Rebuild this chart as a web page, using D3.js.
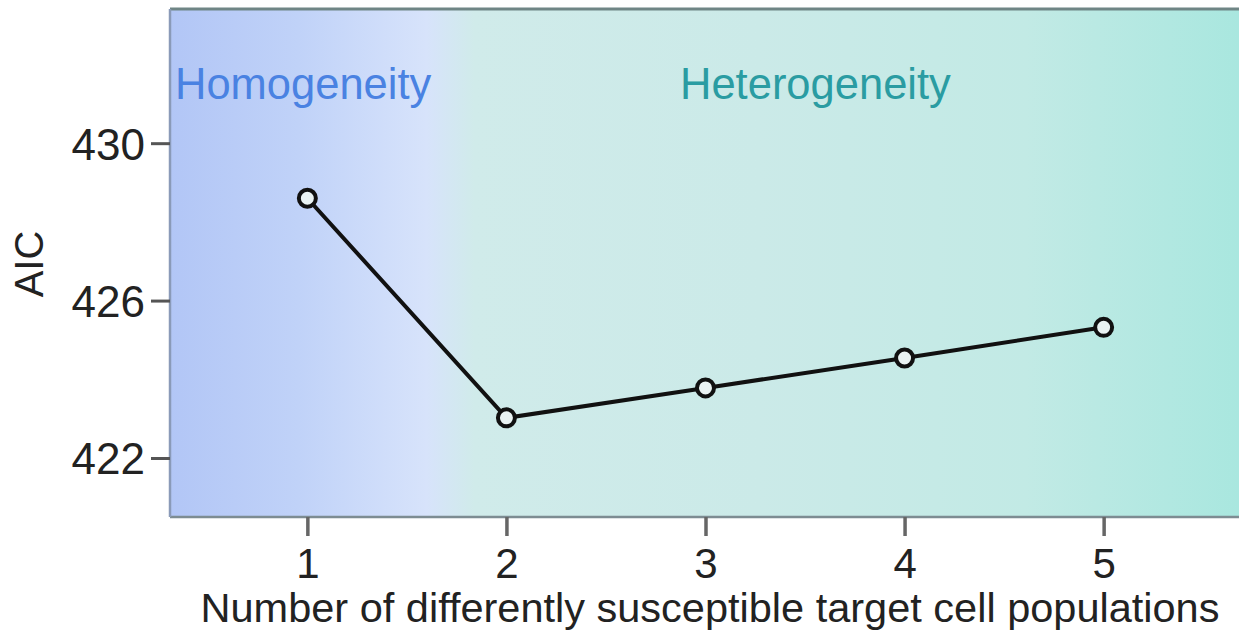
<!DOCTYPE html>
<html>
<head>
<meta charset="utf-8">
<script src="https://cdn.jsdelivr.net/npm/d3@7"></script>
<style>
  html, body { margin: 0; padding: 0; background: #fff; }
  svg { display: block; font-family: "Liberation Sans", Arial, Helvetica, sans-serif; }
</style>
</head>
<body>
<svg id="chart" width="1239" height="641"></svg>
<script>
// Number of target cell populations in the model
const populations = [1, 2, 3, 4, 5];
// AIC of each fitted model
const aicValues = [428.6, 423.02, 423.78, 424.54, 425.32];
// Axis ticks
const yTicks = [422, 426, 430];
const xTicks = [1, 2, 3, 4, 5];

const svg = d3.select("#chart");
const W = 1239, H = 641;
const margin = { left: 170, right: 0, top: 9, bottom: 124 };
const plotW = W - margin.left - margin.right;
const plotH = H - margin.top - margin.bottom;

const x = d3.scaleLinear().domain([0.31, 5.68]).range([margin.left, W - margin.right]);
const y = d3.scaleLinear().domain([420.5, 433.41]).range([H - margin.bottom, margin.top]);

// Background: blue (homogeneity) fading into teal (heterogeneity)
const defs = svg.append("defs");
const grad = defs.append("linearGradient").attr("id", "bg").attr("x1", 0).attr("x2", 1).attr("y1", 0).attr("y2", 0);
[[0, "#b2c6f6"], [0.12, "#c0d2f8"], [0.24, "#d7e3fb"], [0.285, "#d0ebea"], [0.55, "#cbeae8"], [0.8, "#c2eae5"], [1, "#a9e7df"]]
  .forEach(([o, c]) => grad.append("stop").attr("offset", o).attr("stop-color", c));

svg.append("rect")
  .attr("x", margin.left).attr("y", margin.top)
  .attr("width", plotW).attr("height", plotH)
  .attr("fill", "url(#bg)");

// Frame lines
svg.append("line").attr("x1", margin.left).attr("x2", W).attr("y1", margin.top).attr("y2", margin.top)
  .attr("stroke", "#6f8585").attr("stroke-width", 3);
svg.append("line").attr("x1", margin.left).attr("x2", W).attr("y1", H - margin.bottom).attr("y2", H - margin.bottom)
  .attr("stroke", "#7d8c92").attr("stroke-width", 2.5);
svg.append("line").attr("x1", margin.left).attr("x2", margin.left).attr("y1", margin.top).attr("y2", H - margin.bottom)
  .attr("stroke", "#8a9ab8").attr("stroke-width", 2.5);

// Y axis
const yAxis = d3.axisLeft(y).tickValues(yTicks).tickSize(19).tickPadding(6).tickFormat(d3.format("d"));
const gy = svg.append("g").attr("transform", `translate(${margin.left},0)`).call(yAxis);
gy.select(".domain").remove();
gy.selectAll(".tick line").attr("stroke", "#555").attr("stroke-width", 3);
gy.selectAll(".tick text").attr("font-size", 44).attr("fill", "#222").attr("dy", "0.36em");

// X axis
const xAxis = d3.axisBottom(x).tickValues(xTicks).tickSize(19).tickPadding(12).tickFormat(d3.format("d"));
const gx = svg.append("g").attr("transform", `translate(0,${H - margin.bottom})`).call(xAxis);
gx.select(".domain").remove();
gx.selectAll(".tick line").attr("stroke", "#666").attr("stroke-width", 3.5);
gx.selectAll(".tick text").attr("font-size", 42).attr("fill", "#222");

// Axis titles
svg.append("text")
  .attr("x", 710).attr("y", 622)
  .attr("text-anchor", "middle")
  .attr("font-size", 41.5).attr("fill", "#222")
  .text("Number of differently susceptible target cell populations");

svg.append("text")
  .attr("transform", "translate(43,264) rotate(-90)")
  .attr("text-anchor", "middle")
  .attr("font-size", 40).attr("fill", "#222")
  .text("AIC");

// Region labels
svg.append("text")
  .attr("x", 175).attr("y", 99)
  .attr("font-size", 43.5).attr("fill", "#4a82e2")
  .text("Homogeneity");
svg.append("text")
  .attr("x", 680).attr("y", 99)
  .attr("font-size", 43.5).attr("fill", "#2a9ca2")
  .text("Heterogeneity");

// Line and markers
const pts = populations.map((p, i) => ({ p, v: aicValues[i] }));
svg.append("path")
  .datum(pts)
  .attr("fill", "none")
  .attr("stroke", "#111")
  .attr("stroke-width", 4)
  .attr("d", d3.line().x(d => x(d.p)).y(d => y(d.v)));

svg.selectAll("circle.pt")
  .data(pts)
  .join("circle")
  .attr("class", "pt")
  .attr("cx", d => x(d.p)).attr("cy", d => y(d.v))
  .attr("r", 8.5)
  .attr("fill", "#eaf3f3")
  .attr("stroke", "#111")
  .attr("stroke-width", 4);
</script>
</body>
</html>
